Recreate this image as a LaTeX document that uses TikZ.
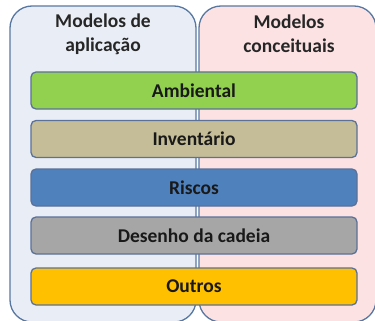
\documentclass[tikz,border=0pt]{standalone}
\usepackage{fontspec}
\setmainfont{Carlito}
\definecolor{panelline}{HTML}{5878A2}
\definecolor{aplfill}{HTML}{E9EEF6}
\definecolor{concfill}{HTML}{FDE2E4}
\definecolor{barline}{HTML}{5B7198}
\definecolor{ambfill}{HTML}{92D050}
\definecolor{invfill}{HTML}{C4BD97}
\definecolor{riscfill}{HTML}{4F81BD}
\definecolor{desfill}{HTML}{A6A6A6}
\definecolor{outfill}{HTML}{FFC000}
\tikzset{
	align=center,
	panel/.style={
		draw=panelline,
		line width=1.3pt,
		rectangle,
		rounded corners=22pt,
		minimum width=186pt,
		minimum height=316pt,
	},
	title/.style={
		font=\bfseries\fontsize{19.5}{24}\selectfont,
		text=black!85,
	},
	bar/.style={
		draw=barline,
		line width=1.3pt,
		rectangle,
		rounded corners=5pt,
		minimum width=326pt,
		minimum height=37pt,
		font=\bfseries\fontsize{19.5}{22}\selectfont,
		text=black!90,
	},
}

\begin{document}
\begin{tikzpicture}[x=1pt,y=-1pt]
		\useasboundingbox (0,0) rectangle (375,321);
		\clip (0,0) rectangle (375,321);

		\node[panel, fill=aplfill]  (apl)  at (103,164) {};
		\node[panel, fill=concfill, minimum width=177pt] (conc) at (287.5,164) {};

		\node[title] (apltitle)  at (103,34)   {Modelos de\\aplicação};
		\node[title] (conctitle) at (289,34)   {Modelos\\conceituais};

%*********

		\node[bar, fill=ambfill]  (amb)  at (194,90.5)  {Ambiental};
		\node[bar, fill=invfill]  (inv)  at (194,139)   {Inventário};
		\node[bar, fill=riscfill] (risc) at (194,187.5) {Riscos};
		\node[bar, fill=desfill]  (des)  at (194,235.5) {Desenho da cadeia};
		\node[bar, fill=outfill]  (outr) at (194,286.5) {Outros};

	\end{tikzpicture}
\end{document}
